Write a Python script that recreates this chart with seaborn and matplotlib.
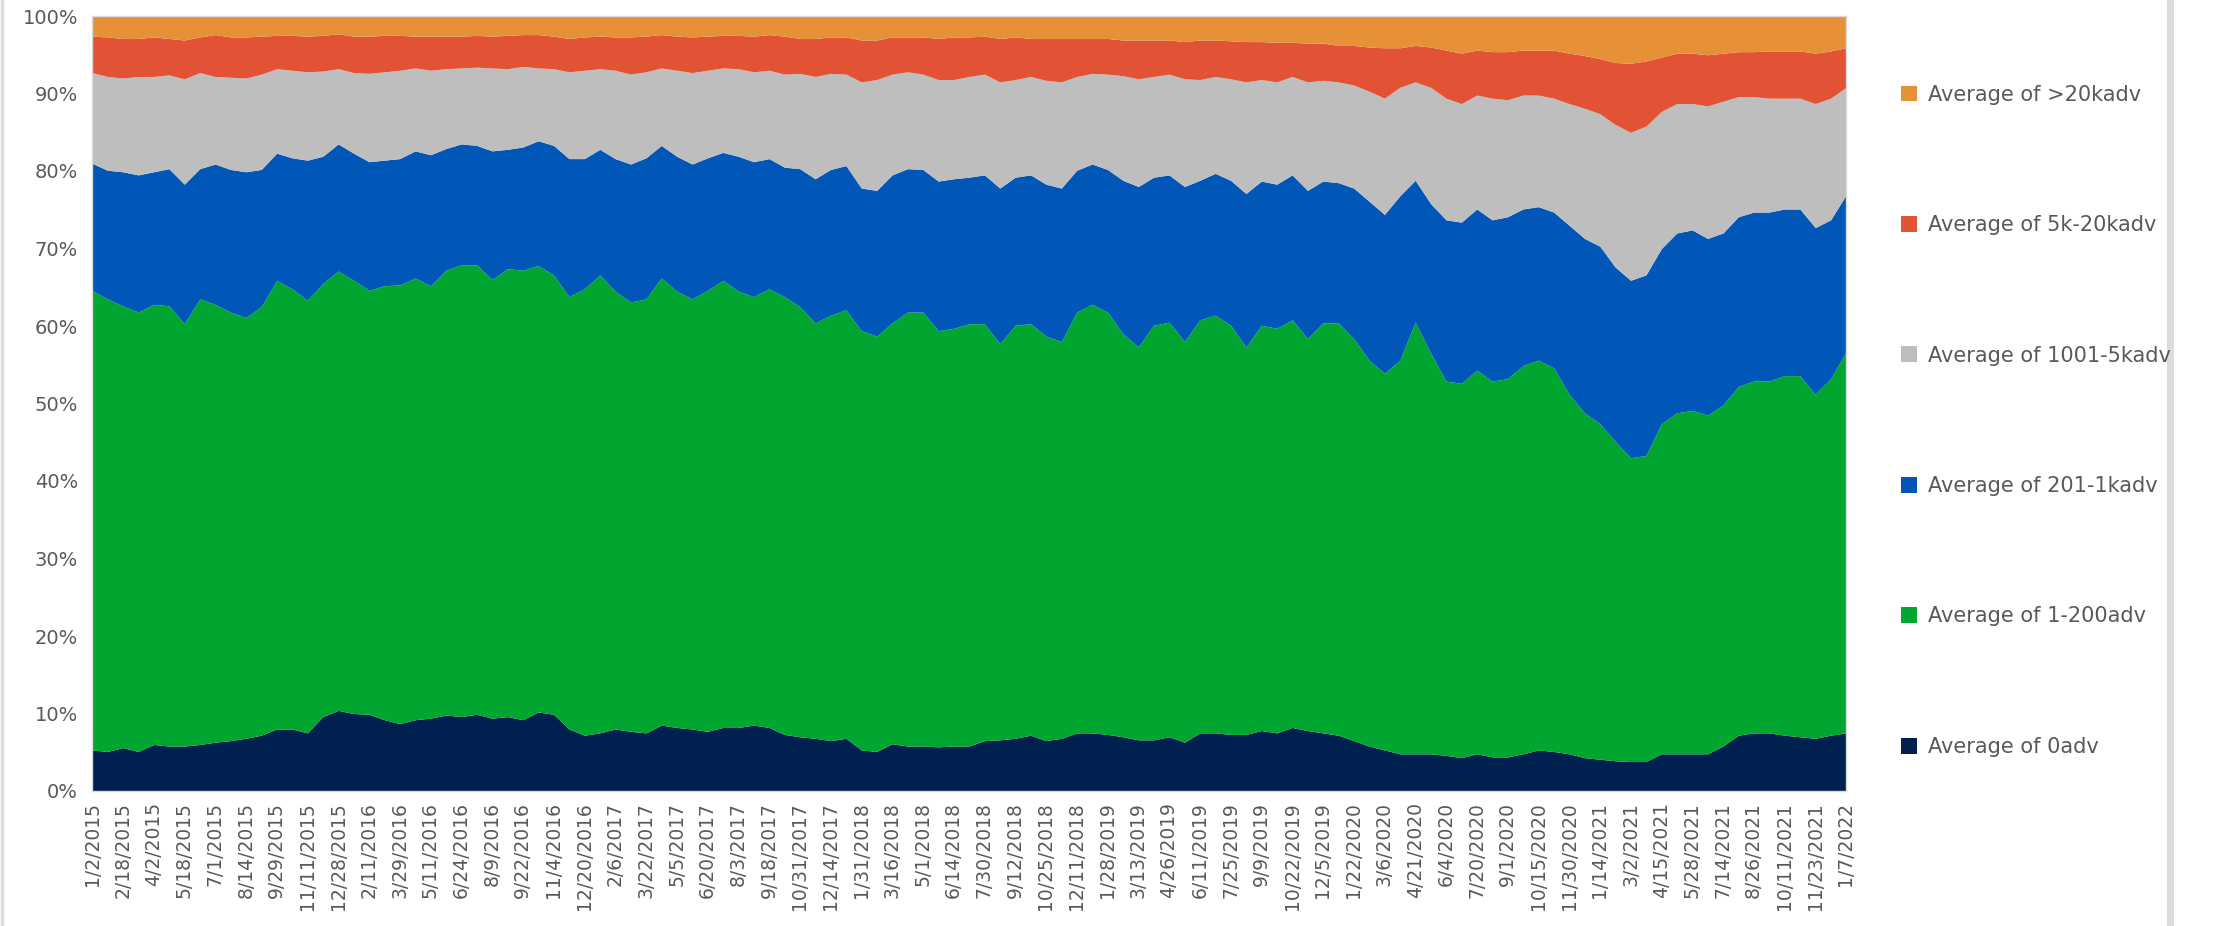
import numpy as np
import matplotlib
matplotlib.use("Agg")
import matplotlib.pyplot as plt
from matplotlib.patches import Patch
from matplotlib.lines import Line2D
import seaborn as sns

# date labels shown on the x axis (every second sample below)
date_labels = [
    "1/2/2015", "2/18/2015", "4/2/2015", "5/18/2015", "7/1/2015", "8/14/2015",
    "9/29/2015", "11/11/2015", "12/28/2015", "2/11/2016", "3/29/2016", "5/11/2016",
    "6/24/2016", "8/9/2016", "9/22/2016", "11/4/2016", "12/20/2016", "2/6/2017",
    "3/22/2017", "5/5/2017", "6/20/2017", "8/3/2017", "9/18/2017", "10/31/2017",
    "12/14/2017", "1/31/2018", "3/16/2018", "5/1/2018", "6/14/2018", "7/30/2018",
    "9/12/2018", "10/25/2018", "12/11/2018", "1/28/2019", "3/13/2019", "4/26/2019",
    "6/11/2019", "7/25/2019", "9/9/2019", "10/22/2019", "12/5/2019", "1/22/2020",
    "3/6/2020", "4/21/2020", "6/4/2020", "7/20/2020", "9/1/2020", "10/15/2020",
    "11/30/2020", "1/14/2021", "3/2/2021", "4/15/2021", "5/28/2021", "7/14/2021",
    "8/26/2021", "10/11/2021", "11/23/2021", "1/7/2022",
]

series_names = ["Average of 0adv", "Average of 1-200adv", "Average of 201-1kadv",
                "Average of 1001-5kadv", "Average of 5k-20kadv", "Average of >20kadv"]
series_colors = ["#002050", "#00A630", "#0057B7", "#BEBEBE", "#E15334", "#E69137"]

# cumulative top (in %) of each band
top_0adv = [
    5.3, 5.1, 5.6, 5.1, 6.0, 5.8, 5.8, 6.0, 6.3, 6.5, 6.8, 7.2, 8.0, 8.0, 7.5, 9.6,
    10.4, 10.0, 9.9, 9.2, 8.7, 9.2, 9.4, 9.8, 9.6, 9.9, 9.4, 9.6,
    9.2, 10.2, 9.9, 8.0, 7.2, 7.5, 8.0, 7.7, 7.5, 8.5, 8.2, 8.0, 7.7, 8.2, 8.2, 8.5,
    8.2, 7.3, 7.0, 6.8, 6.5, 6.8, 5.3, 5.1, 6.1, 5.8, 5.8, 5.7,
    5.8, 5.8, 6.5, 6.6, 6.8, 7.2, 6.5, 6.8, 7.5, 7.5, 7.3, 7.0, 6.6, 6.6, 7.0, 6.3,
    7.5, 7.5, 7.3, 7.3, 7.8, 7.5, 8.2, 7.8, 7.5, 7.2, 6.5, 5.8, 5.3, 4.8,
    4.8, 4.8, 4.6, 4.3, 4.8, 4.4, 4.4, 4.8, 5.3, 5.1, 4.8, 4.3, 4.1, 3.9, 3.8, 3.8,
    4.8, 4.8, 4.8, 4.8, 5.8, 7.2, 7.5, 7.5, 7.2, 7.0, 6.8, 7.2, 7.5,
]
top_1_200 = [
    64.6, 63.5, 62.6, 61.8, 62.8, 62.6, 60.3, 63.5, 62.8, 61.8, 61.1, 62.5, 65.9, 64.8,
    63.3, 65.5, 67.1, 65.9, 64.6, 65.2, 65.3, 66.2, 65.2, 67.2, 67.9, 67.9, 66.0, 67.4,
    67.2, 67.8, 66.6, 63.8, 64.8, 66.6, 64.5, 63.1, 63.5, 66.2, 64.5, 63.5, 64.6, 65.9,
    64.5, 63.8, 64.8, 63.8, 62.5, 60.4, 61.4, 62.1, 59.4, 58.7, 60.4, 61.8, 61.8, 59.4,
    59.7, 60.3, 60.3, 57.7, 60.1, 60.3, 58.7, 58.0, 61.8, 62.8, 61.8, 59.0, 57.3, 60.1,
    60.5, 58.0, 60.8, 61.4, 60.1, 57.3, 60.1, 59.7, 60.8, 58.4, 60.4, 60.4, 58.4, 55.6,
    53.9, 55.6,
    60.5, 56.5, 52.9, 52.6, 54.3, 52.9, 53.2, 54.9, 55.6, 54.6, 51.2, 48.8, 47.4, 45.1,
    43.0, 43.3, 47.4, 48.8, 49.1, 48.5, 49.8, 52.2, 52.9, 52.9, 53.6, 53.6, 51.2, 53.2,
    56.7,
]
top_201_1k = [
    81.0, 80.1, 79.9, 79.5, 79.9, 80.3, 78.3, 80.3, 80.9, 80.2, 79.9, 80.2, 82.3, 81.7,
    81.4, 81.9, 83.5, 82.3, 81.2, 81.4, 81.6, 82.6, 82.1, 82.9, 83.5, 83.3, 82.6, 82.8,
    83.1, 83.9, 83.3, 81.6, 81.6, 82.8, 81.6, 80.9, 81.7, 83.3, 81.9, 80.9, 81.7, 82.4,
    81.9, 81.2, 81.6, 80.5, 80.3, 79.0, 80.2, 80.7, 77.8, 77.5, 79.5, 80.3, 80.2, 78.7,
    79.0, 79.2, 79.5, 77.8, 79.2, 79.5, 78.3, 77.8, 80.1, 80.9, 80.2, 78.8, 78.0, 79.2,
    79.5, 78.0, 78.8, 79.7, 78.8, 77.1, 78.7, 78.3, 79.5, 77.5, 78.7, 78.5, 77.8, 76.1,
    74.4, 76.8,
    78.8, 75.8, 73.7, 73.4, 75.1, 73.7, 74.1, 75.1, 75.4, 74.7, 73.0, 71.3, 70.3, 67.6,
    65.9, 66.6, 70.0, 72.0, 72.4, 71.3, 72.0, 74.1, 74.7, 74.7, 75.1, 75.1, 72.7, 73.7,
    76.9,
]
top_1001_5k = [
    92.7, 92.2, 92.0, 92.2, 92.2, 92.4, 91.9, 92.7, 92.2, 92.1, 92.0, 92.5, 93.2, 93.0,
    92.8, 92.9, 93.2, 92.7, 92.6, 92.8, 93.0, 93.3, 93.0, 93.2, 93.3, 93.4, 93.3, 93.2,
    93.5, 93.3, 93.2, 92.8, 93.0, 93.2, 93.0, 92.5, 92.8, 93.3, 93.0, 92.7, 93.0, 93.3,
    93.2, 92.8, 93.0, 92.5, 92.6, 92.2, 92.6, 92.5, 91.5, 91.8, 92.5, 92.8, 92.5, 91.8,
    91.8, 92.2, 92.5, 91.5, 91.8, 92.2, 91.7, 91.5, 92.2, 92.6, 92.5, 92.3, 91.9, 92.2,
    92.5, 91.9, 91.8, 92.2, 91.9, 91.5, 91.8, 91.5, 92.2, 91.5, 91.7, 91.5, 91.1, 90.3,
    89.4, 90.8,
    91.5, 90.8, 89.4, 88.7, 89.8, 89.4, 89.2, 89.8, 89.8, 89.4, 88.7, 88.1, 87.4, 86.0,
    85.0, 85.8, 87.7, 88.7, 88.7, 88.4, 89.0, 89.6, 89.6, 89.4, 89.4, 89.4, 88.7, 89.4,
    90.8,
]
top_5k_20k = [
    97.4, 97.3, 97.1, 97.1, 97.3, 97.1, 96.9, 97.3, 97.6, 97.3, 97.3, 97.4, 97.5, 97.5,
    97.4, 97.5, 97.7, 97.4, 97.4, 97.5, 97.5, 97.4, 97.4, 97.4, 97.4, 97.5, 97.4, 97.5,
    97.6, 97.6, 97.4, 97.1, 97.3, 97.4, 97.3, 97.3, 97.4, 97.6, 97.4, 97.3, 97.4, 97.5,
    97.5, 97.4, 97.6, 97.4, 97.1, 97.1, 97.3, 97.3, 96.9, 96.9, 97.3, 97.3, 97.3, 97.1,
    97.3, 97.3, 97.4, 97.1, 97.3, 97.1, 97.1, 97.1, 97.1, 97.1, 97.1, 96.9, 96.9, 96.9,
    96.9, 96.7, 96.9, 96.9, 96.8, 96.7, 96.7, 96.6, 96.6, 96.5, 96.5, 96.2, 96.2, 96.0,
    95.9, 95.9,
    96.2, 96.0, 95.6, 95.2, 95.6, 95.4, 95.4, 95.6, 95.6, 95.6, 95.2, 94.9, 94.5, 94.0,
    93.9, 94.2, 94.7, 95.2, 95.2, 95.0, 95.2, 95.4, 95.4, 95.5, 95.5, 95.5, 95.2, 95.5,
    95.9,
]
top_all = [100.0] * len(top_0adv)

sns.set_style("white")
plt.rcParams["font.family"] = ["DejaVu Sans"]

W, H = 2221, 926
fig = plt.figure(figsize=(W / 100, H / 100), dpi=100)
ax = fig.add_axes([92 / W, 1 - 791 / H, (1846 - 92) / W, (791 - 16) / H])

tops = np.array([top_0adv, top_1_200, top_201_1k, top_1001_5k, top_5k_20k, top_all])
shares = np.diff(np.vstack([np.zeros(tops.shape[1]), tops]), axis=0)
x = np.arange(tops.shape[1])

ax.stackplot(x, shares, colors=series_colors, linewidth=0)

ax.set_xlim(0, len(x) - 1)
ax.set_ylim(0, 100)
ax.set_yticks(range(0, 101, 10))
ax.set_yticklabels([f"{v}%" for v in range(0, 101, 10)], fontsize=14, color="#595959")
ax.set_xticks(x[::2])
ax.set_xticklabels(date_labels, rotation=90, fontsize=13.5, color="#595959")
ax.tick_params(axis="both", length=0)
ax.tick_params(axis="y", pad=10)
ax.tick_params(axis="x", pad=8)
for s in ax.spines.values():
    s.set_color("#d9d9d9")
    s.set_linewidth(1)
ax.grid(False)

handles = [Patch(facecolor=c, edgecolor="none") for c in series_colors][::-1]
leg = fig.legend(handles, series_names[::-1], loc="upper left",
                 bbox_to_anchor=(1882 / W, 1 - 66 / H), frameon=False,
                 fontsize=15, labelspacing=5.3, handlelength=0.8, handleheight=0.8,
                 handletextpad=0.5)
for t in leg.get_texts():
    t.set_color("#595959")

# window borders seen in the screenshot
fig.add_artist(Line2D([2170 / W, 2170 / W], [0, 1], color="#dcdcdc", lw=5))
fig.add_artist(Line2D([1.5 / W, 1.5 / W], [0, 1], color="#dcdcdc", lw=2.5))

fig.savefig("out.png", dpi=100)
